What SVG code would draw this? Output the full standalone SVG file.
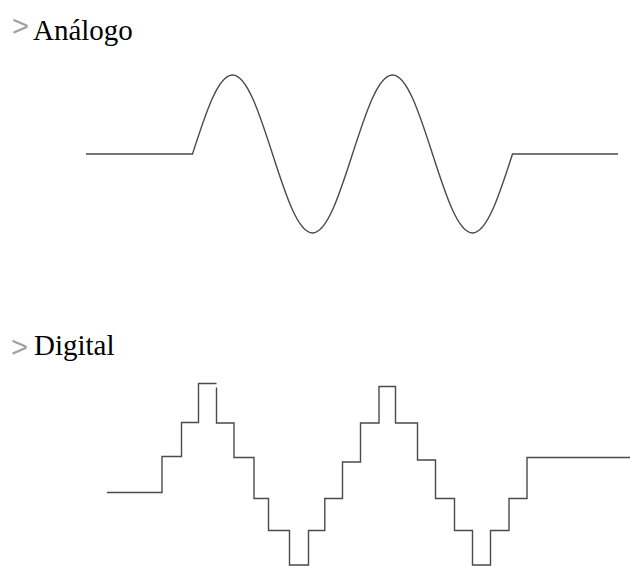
<svg xmlns="http://www.w3.org/2000/svg" width="630" height="566" viewBox="0 0 630 566">
  <style>
    .wave { fill: none; stroke: #4a4a4a; stroke-width: 1.4; stroke-linejoin: miter; }
    .title { font-size: 29px; fill: #000; }
    .bullet { font-size: 29px; fill: #a0a0a0; }
  </style>
  <rect x="0" y="0" width="630" height="566" fill="#ffffff"/>
  <g id="label-analogo">
    <text class="bullet" font-family="Liberation Sans, Arial, sans-serif" x="12" y="36">&gt;</text>
    <text class="title" font-family="Liberation Serif, Times New Roman, DejaVu Serif, serif" x="33" y="40">Análogo</text>
  </g>
  <g id="label-digital">
    <text class="bullet" font-family="Liberation Sans, Arial, sans-serif" x="11" y="356.5">&gt;</text>
    <text class="title" font-family="Liberation Serif, Times New Roman, DejaVu Serif, serif" x="34" y="355">Digital</text>
  </g>
  <g id="analog-wave">
    <path class="wave" d="M86,154 H192.5 C205.8,112.6 218.1,75 232.5,75 C246.9,75 259.2,112.6 272.5,154 C285.8,195.4 298.1,233 312.5,233 C326.9,233 339.2,195.4 352.5,154 C365.8,112.6 378.1,75 392.5,75 C406.9,75 419.2,112.6 432.5,154 C445.8,195.4 458.1,233 472.5,233 C486.9,233 499.2,195.4 512.5,154 H618"/>
  </g>
  <g id="digital-wave">
    <path class="wave" d="M107,492.5 H162 V456.5 H181.5 V422.5 H198.5 V383.5 H216.5"/>
    <path class="wave" d="M216.5,387.5 V423 H234 V457.5 H254 V498.5 H268.5 V530.5 H289.5 V565 H308.5 V530.5 H324.8 V498.5 H342.5 V462 H360.5 V423 H379 V386.5 H395.5 V423 H417.5 V460 H435.5 V498.5 H454.5 V530.5 H472.5 V565 H490.5 V530.5 H509 V498.5 H527 V457.5 H630"/>
  </g>
</svg>
